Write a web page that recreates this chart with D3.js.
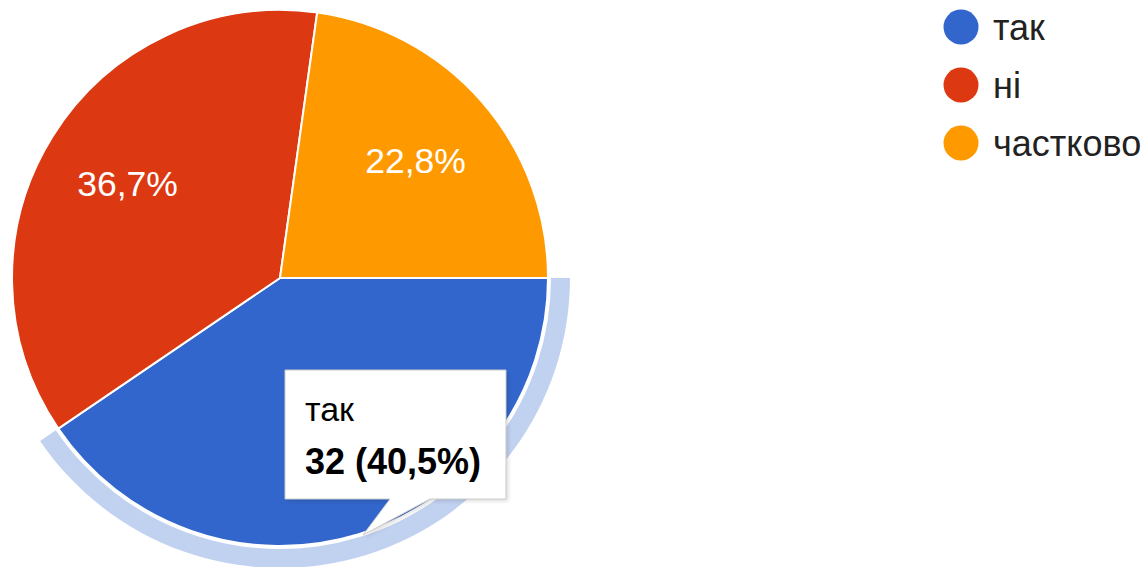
<!DOCTYPE html>
<html><head><meta charset="utf-8">
<script src="https://cdn.jsdelivr.net/npm/d3@7"></script>
<style>body{margin:0;background:#fff;}svg{display:block;font-family:Arial,"Liberation Sans",sans-serif;}</style>
</head><body><svg id="c" width="1145" height="567"></svg>
<script>
const categories = ["так", "ні", "частково"];
const values = [32, 29, 18];
const percentLabels = ["40,5%", "36,7%", "22,8%"];
const colors = ["#3366cc", "#dc3912", "#ff9900"];
const highlighted = 0;

const svg = d3.select("#c");
const cx = 280, cy = 278, R = 268;
const g = svg.append("g").attr("transform", `translate(${cx},${cy})`);

const pie = d3.pie().sort(null).value(d => d)
  .startAngle(Math.PI / 2).endAngle(Math.PI / 2 + 2 * Math.PI);
const arcs = pie(values);
const arc = d3.arc().innerRadius(0).outerRadius(R);
const labelArc = d3.arc().innerRadius(R * 0.67).outerRadius(R * 0.67);
const ringArc = d3.arc().innerRadius(R + 3).outerRadius(R + 22);

// highlight ring
g.append("path").attr("d", ringArc(arcs[highlighted]))
  .attr("fill", colors[highlighted]).attr("fill-opacity", 0.3);

g.selectAll("path.slice").data(arcs).join("path").attr("class", "slice")
  .attr("d", arc).attr("fill", (d, i) => colors[i])
  .attr("stroke", "#fff").attr("stroke-width", 2);

g.selectAll("text.lbl").data(arcs).join("text").attr("class", "lbl")
  .filter((d, i) => i !== highlighted)
  .attr("transform", d => `translate(${labelArc.centroid(d)})`)
  .attr("text-anchor", "middle").attr("dy", "0.36em")
  .attr("fill", "#fff").attr("font-size", 35.5)
  .text((d, i) => percentLabels[d.index]);

// tooltip
const tip = svg.append("g");
const tipPath = "M285,370 H506 V499 H430 L363,535 L390,499 H285 Z";
tip.append("path")
  .attr("d", tipPath)
  .attr("fill", "#000").attr("opacity", 0.15).attr("transform", "translate(2,2)")
  .style("filter", "blur(2px)");
tip.append("path")
  .attr("d", tipPath)
  .attr("fill", "#fff").attr("stroke", "#cccccc").attr("stroke-width", 1);
tip.append("text").attr("x", 305).attr("y", 421).attr("font-size", 34).attr("fill", "#000")
  .text(categories[highlighted]);
tip.append("text").attr("x", 305).attr("y", 474).attr("font-size", 36).attr("font-weight", "bold").attr("fill", "#000")
  .text(`${values[highlighted]} (${percentLabels[highlighted]})`);

// legend
const leg = svg.append("g");
const ly = d3.scalePoint().domain(categories).range([27, 143]);
categories.forEach((c, i) => {
  leg.append("circle").attr("cx", 961).attr("cy", ly(c)).attr("r", 17.5).attr("fill", colors[i]);
  leg.append("text").attr("x", 993).attr("y", ly(c)).attr("dy", "0.36em")
    .attr("font-size", 36).attr("fill", "#222").text(c);
});
</script></body></html>
